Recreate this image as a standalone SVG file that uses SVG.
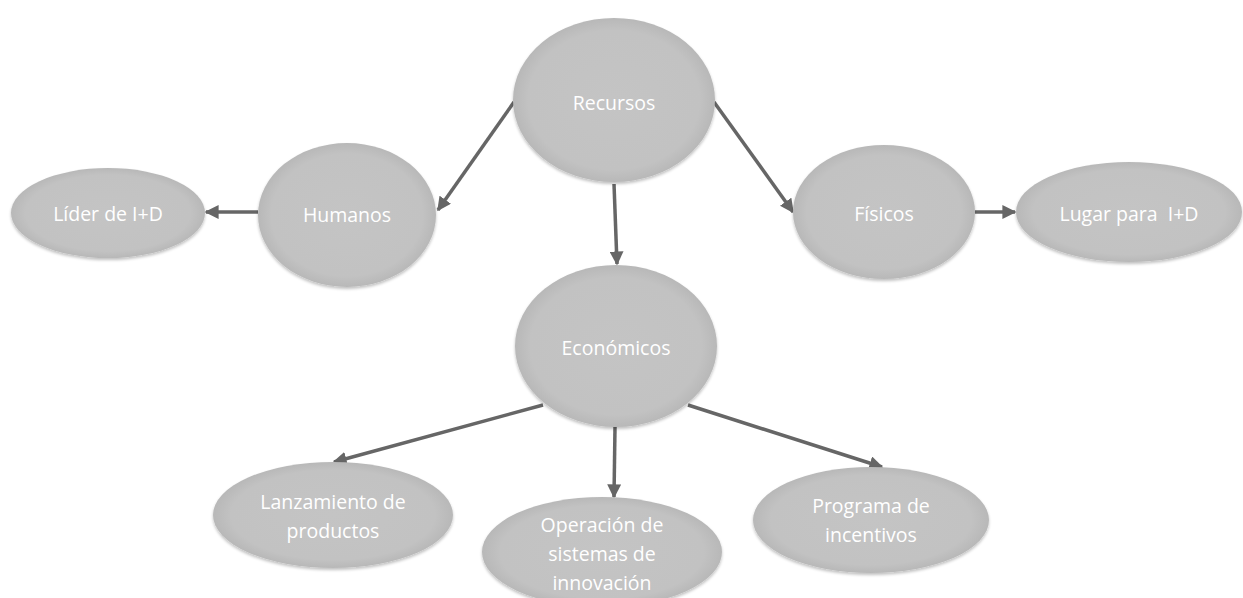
<svg xmlns="http://www.w3.org/2000/svg" width="1243" height="598" viewBox="0 0 1243 598">
  <style>
    .node ellipse { fill: url(#bubble); filter: url(#soft); }
    .node text { font-family: "Open Sans", "Liberation Sans", sans-serif; font-size: 19.5px; fill: #ffffff; text-anchor: middle; }
    .edge { stroke: #666666; stroke-width: 3.5; fill: none; marker-end: url(#head); }
  </style>
  <defs>
    <radialGradient id="bubble" cx="50%" cy="50%" r="50%">
      <stop offset="0%" stop-color="#c4c4c4"/>
      <stop offset="85%" stop-color="#c2c2c2"/>
      <stop offset="100%" stop-color="#b8b8b8"/>
    </radialGradient>
    <filter id="soft" x="-10%" y="-10%" width="120%" height="125%">
      <feGaussianBlur in="SourceAlpha" stdDeviation="1.5"/>
      <feOffset dy="1.5" result="b"/>
      <feComponentTransfer><feFuncA type="linear" slope="0.25"/></feComponentTransfer>
      <feMerge><feMergeNode/><feMergeNode in="SourceGraphic"/></feMerge>
    </filter>
    <marker id="head" viewBox="0 0 10 10" refX="9" refY="5" markerWidth="4" markerHeight="4" orient="auto" markerUnits="strokeWidth">
      <path d="M0,0 L10,5 L0,10 z" fill="#666666"/>
    </marker>
  </defs>
  <rect width="1243" height="598" fill="#ffffff"/>

  <g id="connectors">
    <line class="edge" x1="514" y1="102" x2="438" y2="210"/>
    <line class="edge" x1="714" y1="102" x2="793" y2="212"/>
    <line class="edge" x1="614" y1="184" x2="617" y2="264"/>
    <line class="edge" x1="258" y1="212" x2="206" y2="212"/>
    <line class="edge" x1="975" y1="212" x2="1015" y2="212"/>
    <line class="edge" x1="543" y1="405" x2="334" y2="462"/>
    <line class="edge" x1="615" y1="427" x2="614" y2="497"/>
    <line class="edge" x1="688" y1="405" x2="882" y2="467"/>
  </g>

  <g id="recursos" class="node">
    <ellipse cx="614" cy="100" rx="101" ry="82"/>
    <text x="614" y="110">Recursos</text>
  </g>
  <g id="humanos" class="node">
    <ellipse cx="347" cy="215" rx="89" ry="72"/>
    <text x="347" y="222">Humanos</text>
  </g>
  <g id="lider" class="node">
    <ellipse cx="108" cy="213" rx="97" ry="45"/>
    <text x="108" y="221">Líder de I+D</text>
  </g>
  <g id="fisicos" class="node">
    <ellipse cx="884" cy="212" rx="91" ry="67"/>
    <text x="884" y="221">Físicos</text>
  </g>
  <g id="lugar" class="node">
    <ellipse cx="1129" cy="212" rx="113" ry="50"/>
    <text x="1129" y="221" xml:space="preserve">Lugar para  I+D</text>
  </g>
  <g id="economicos" class="node">
    <ellipse cx="616" cy="346" rx="101" ry="81"/>
    <text x="616" y="355">Económicos</text>
  </g>
  <g id="lanzamiento" class="node">
    <ellipse cx="333" cy="515" rx="120" ry="53"/>
    <text x="333" y="509">Lanzamiento de</text>
    <text x="333" y="538">productos</text>
  </g>
  <g id="operacion" class="node">
    <ellipse cx="602" cy="552" rx="120" ry="55"/>
    <text x="602" y="532">Operación de</text>
    <text x="602" y="561">sistemas de</text>
    <text x="602" y="590">innovación</text>
  </g>
  <g id="programa" class="node">
    <ellipse cx="871" cy="520" rx="118" ry="53"/>
    <text x="871" y="513">Programa de</text>
    <text x="871" y="542">incentivos</text>
  </g>
</svg>
